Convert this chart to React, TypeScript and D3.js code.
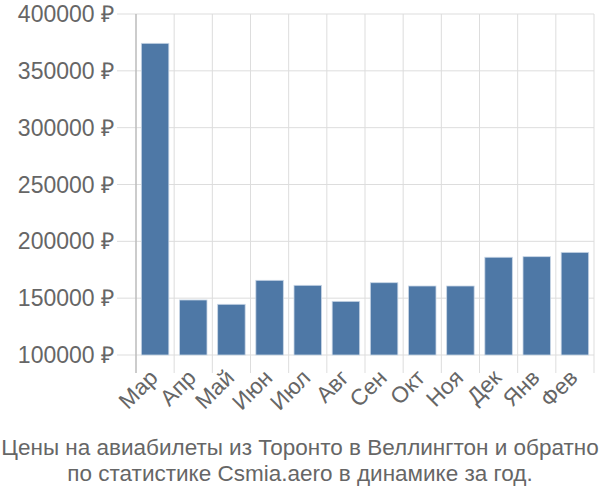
import React from "react";
import * as d3 from "d3";

const months = ["Мар", "Апр", "Май", "Июн", "Июл", "Авг", "Сен", "Окт", "Ноя", "Дек", "Янв", "Фев"];
const prices = [374200, 148400, 144600, 165700, 161300, 147200, 163600, 160700, 160700, 186000, 186500, 190300];
const yTicks = [100000, 150000, 200000, 250000, 300000, 350000, 400000];
const titleLines = [
  "Цены на авиабилеты из Торонто в Веллингтон и обратно",
  "по статистике Csmia.aero в динамике за год.",
];

export default function App() {
  const W = 600, H = 500;
  const left = 136, right = 594, top = 14, bottom = 355;
  const x = d3.scaleBand<string>().domain(months).range([left, right]).paddingInner(0.28).paddingOuter(0.14);
  const xg = d3.scaleBand<string>().domain(months).range([left, right]);
  const y = d3.scaleLinear().domain([100000, 400000]).range([bottom, top]);
  const font = "'Liberation Sans', Arial, sans-serif";
  const grid = "#dddddd";
  return (
    <svg width={W} height={H} style={{ position: "absolute", left: 0, top: 0 }} fontFamily={font}>
      {yTicks.map((t) => (
        <g key={t}>
          <line x1={117} x2={right} y1={y(t)} y2={y(t)} stroke={grid} strokeWidth={1} />
          <text x={114} y={y(t)} dy="0.35em" textAnchor="end" fontSize={23} fill="#666">
            {t} ₽
          </text>
        </g>
      ))}
      {months.map((m) => (
        <line key={m} x1={xg(m)!} x2={xg(m)!} y1={top} y2={373} stroke={grid} strokeWidth={1} />
      ))}
      <line x1={right} x2={right} y1={top} y2={373} stroke={grid} strokeWidth={1} />
      <line x1={left} x2={left} y1={top} y2={373} stroke="#aaa" strokeWidth={1} />
      {months.map((m, i) => (
        <rect
          key={m}
          x={x(m)}
          y={y(prices[i])}
          width={x.bandwidth()}
          height={bottom - y(prices[i])}
          fill="#4e78a6"
          stroke="#c8d6e6"
          strokeWidth={0.8}
        />
      ))}
      {months.map((m) => {
        const cx = xg(m)! + xg.bandwidth() / 2 - 7;
        return (
          <text
            key={m}
            transform={`translate(${cx},${368}) rotate(-45)`}
            textAnchor="end"
            dy="0.7em"
            fontSize={22.5}
            fill="#666"
          >
            {m}
          </text>
        );
      })}
      {titleLines.map((l, i) => (
        <text key={i} x={300} y={455 + i * 26} textAnchor="middle" fontSize={22.5} fill="#666">
          {l}
        </text>
      ))}
    </svg>
  );
}
